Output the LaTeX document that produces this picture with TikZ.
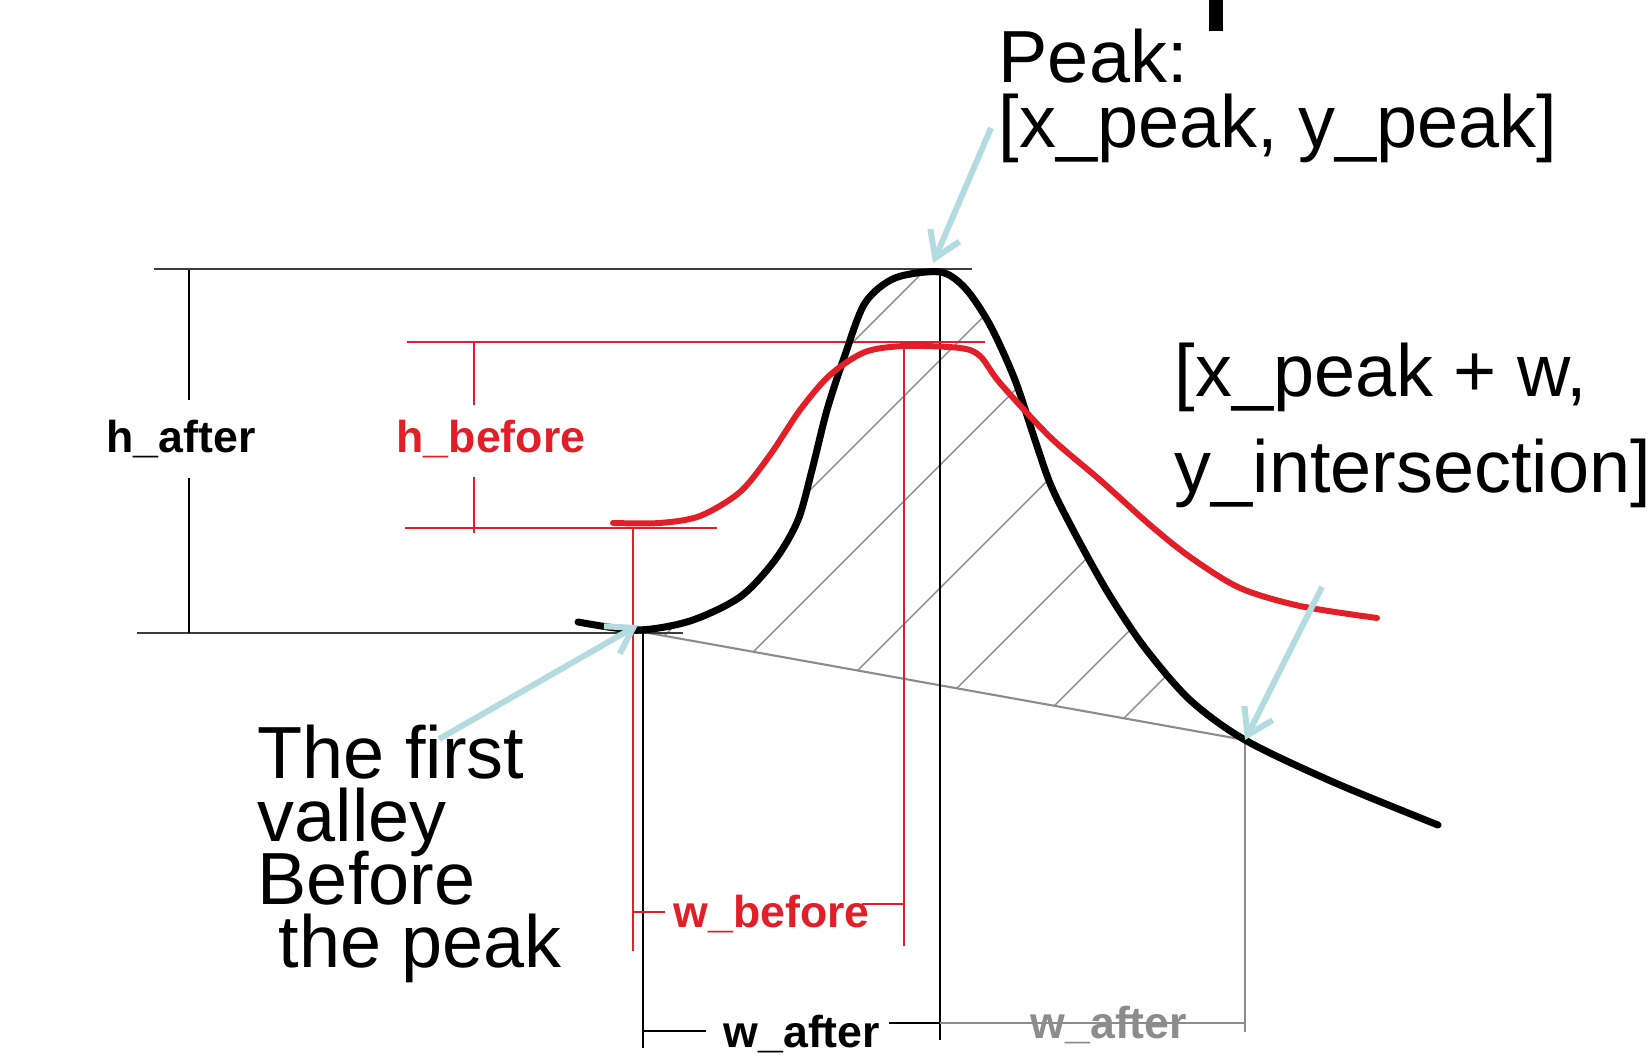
\documentclass[tikz,border=0pt]{standalone}
\usepackage{fontspec}
\setmainfont{Liberation Sans}
\usetikzlibrary{arrows.meta,calc}

\definecolor{curvered}{RGB}{226,30,40}
\definecolor{arrowblue}{RGB}{178,220,224}
\definecolor{dimgray}{RGB}{140,140,140}
\definecolor{edgegray}{RGB}{60,60,60}

\begin{document}
\begin{tikzpicture}[x=0.01cm,y=-0.01cm,
    bigtext/.style={font=\fontsize{21}{18}\selectfont,anchor=base west,inner sep=0pt},
    dimtext/.style={font=\fontsize{12.7}{14}\selectfont\bfseries,anchor=base west,inner sep=0pt},
    pointer/.style={arrowblue,line width=1.7pt,-{Straight Barb[length=7pt,width=9pt]}},
    thinline/.style={line width=0.5pt},
    redline/.style={curvered,line width=0.45pt},
    hatchline/.style={dimgray,line width=0.4pt}]
    \useasboundingbox (0,0) rectangle (1648,1061);

      % cut off glyph at the top
      \fill[black] (1209,0) rectangle (1223,31);

      \coordinate (V)  at (637,630);   % valley
      \coordinate (Vb) at (643,632);
      \coordinate (T)  at (940,272);   % peak
      \coordinate (X)  at (1245,740);  % intersection

      % hatching under the peak
      \begin{scope}
        \clip plot[smooth] coordinates {(V) (690,621) (740,597) (775,560)
          (798,520) (812,470) (827,410) (845,355) (865,303) (895,278) (T)
          (965,288) (990,325) (1015,380) (1035,440) (1052,488) (1080,543)
          (1110,596) (1145,648) (1190,700) (X)} -- (Vb) -- cycle;
        \foreach \c in {1195,1300,1405,1528,1645,1760,1842}
          \draw[hatchline] (\c-800,800) -- (\c-200,200);
      \end{scope}
      \draw[dimgray, line width=0.6pt] (Vb) -- (X);

      % black dimension lines
      \coordinate (A1) at (154,269);
      \coordinate (A2) at (972,269);
      \coordinate (B1) at (137,633);
      \coordinate (B2) at (683,633);
      \draw[edgegray, line width=0.6pt] (A1) -- (A2);
      \draw[edgegray, line width=0.6pt] (B1) -- (B2);
      \draw[thinline] (189,270) -- (189,400);
      \draw[thinline] (189,478) -- (189,633);
      \draw[thinline] (643,633) -- (643,1048);
      \draw[thinline] (940,269) -- (940,1040);
      \draw[thinline] (643,1031) -- (706,1031);
      \draw[thinline] (889,1023) -- (940,1023);

      % red dimension lines
      \draw[redline] (407,342) -- (985,342);
      \draw[redline] (405,528) -- (717,528);
      \draw[redline] (474,342) -- (474,405);
      \draw[redline] (474,477) -- (474,533);
      \draw[redline] (633,528) -- (633,951);
      \draw[redline] (904,342) -- (904,946);
      \draw[redline] (633,912) -- (665,912);
      \draw[redline] (862,904) -- (904,904);

      % gray dimension lines
      \draw[dimgray, line width=0.6pt] (X) -- (1245,1032);
      \draw[dimgray, line width=0.6pt] (940,1023) -- (1245,1023);

      % curves
      \draw[black, line width=2pt, line cap=round] plot[smooth] coordinates {
        (578,622) (V) (690,621) (740,597) (775,560) (798,520) (812,470)
        (827,410) (845,355) (865,303) (895,278) (T) (965,288) (990,325)
        (1015,380) (1035,440) (1052,488) (1080,543) (1110,596) (1145,648)
        (1190,700) (X) (1333,782) (1438,825)};
      \draw[curvered, line width=1.7pt, line cap=round] plot[smooth] coordinates {
        (613,523) (660,523) (700,516) (740,492) (770,455) (800,410) (830,375)
        (865,352) (905,346) (960,348) (980,356) (1000,383) (1050,437)
        (1100,480) (1150,525) (1190,557) (1240,588) (1300,606) (1377,618)};

      % pointers
      \coordinate (P0) at (991,128);
      \coordinate (P1) at (933,263);
      \coordinate (Q0) at (439,739);
      \coordinate (Q1) at (638,625);
      \coordinate (R0) at (1322,587);
      \draw[pointer] (P0) -- (P1);
      \draw[pointer] (Q0) -- (Q1);
      \draw[pointer] (R0) -- (X);

      % labels
      \node[bigtext] (peaka) at (998,83) {Peak:};
      \node[bigtext] (peakb) at (998,148) {[x\_peak, y\_peak]};
      \node[bigtext] (isecta) at (1174,397) {[x\_peak + w,};
      \node[bigtext] (isectb) at (1174,493) {y\_intersection]};
      \node[bigtext] (valleya) at (257,778) {The first};
      \node[bigtext] (valleyb) at (257,841) {valley};
      \node[bigtext] (valleyc) at (257,904) {Before};
      \node[bigtext] (valleyd) at (278,967) {the peak};

      \node[dimtext] (hafter) at (106,453) {h\_after};
      \node[dimtext, text=curvered] (hbefore) at (396,453) {h\_before};
      \node[dimtext, text=curvered] (wbefore) at (673,927) {w\_before};
      \node[dimtext] (waftera) at (723,1047) {w\_after};
      \node[dimtext, text=dimgray] (wafterb) at (1030,1038) {w\_after};

    \end{tikzpicture}
\end{document}
